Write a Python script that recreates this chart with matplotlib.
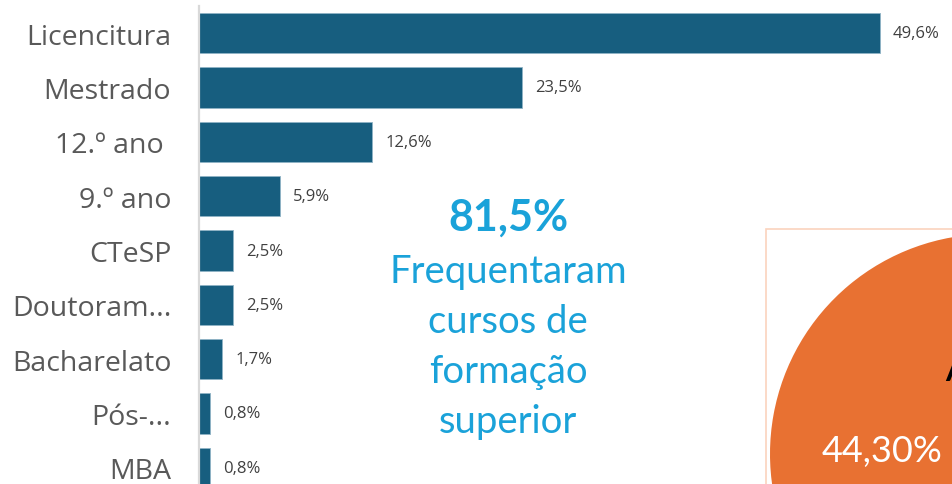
import numpy as np
import matplotlib.pyplot as plt
from matplotlib.patches import Rectangle

# data
cats = ["Licencitura", "Mestrado", "12.º ano ", "9.º ano", "CTeSP",
        "Doutoram...", "Bacharelato", "Pós-...", "MBA"]
vals = [49.6, 23.5, 12.6, 5.9, 2.5, 2.5, 1.7, 0.8, 0.8]
pie_vals = [44.3, 55.7]
pie_label = "44,30%"
highlight = "81,5%"
highlight_txt = ["Frequentaram", "cursos de", "formação", "superior"]

W, H = 953, 485
fig = plt.figure(figsize=(W / 100, H / 100), dpi=100)

def px(x, y):
    return x / W, 1 - y / H

# bar chart axes (extends a bit below the figure)
x0, top, bot = 199, 7, 496
xmax = 55
ax = fig.add_axes([x0 / W, (H - bot) / H, (13.73 * xmax) / W, (bot - top) / H])
y = np.arange(len(cats))
ax.barh(y, vals, height=0.74, color="#175e7f", edgecolor="#8fb3c6", linewidth=0.6)
ax.set_ylim(len(cats) - 0.5, -0.5)
ax.set_xlim(0, xmax)
ax.set_yticks(y)
ax.set_yticklabels(cats, fontsize=20.5, color="#595959", family="Open Sans")
ax.tick_params(axis="y", length=0, pad=20)
ax.set_xticks([])
for s in ["top", "right", "bottom"]:
    ax.spines[s].set_visible(False)
ax.spines["left"].set_color("#d9d9d9")
ax.spines["left"].set_linewidth(1.6)
for i, v in enumerate(vals):
    ax.text(v + 0.95, i, f"{v:.1f}%".replace(".", ","), va="center", ha="left",
            fontsize=12, color="#404040", family="Open Sans")

# highlight text
blue = "#1aa2d9"
fig.text(*px(508, 218), highlight, ha="center", va="center", fontsize=31,
         fontweight="bold", color=blue, family="Lato")
for k, t in enumerate(highlight_txt):
    fig.text(*px(508, 272 + k * 50), t, ha="center", va="center", fontsize=27.5,
             color=blue, family="Lato")

# pie in a bordered box (cropped at the right/bottom edge)
fig.add_artist(Rectangle(px(766, 500), (W + 10 - 766) / W, (500 - 230) / H,
                         transform=fig.transFigure, facecolor="none",
                         edgecolor="#fbd3bd", linewidth=1.2))
cx, cy, r = 990, 455, 220
pax = fig.add_axes([(cx - r) / W, (H - cy - r) / H, 2 * r / W, 2 * r / H])
pax.pie(pie_vals, colors=["#e87132", "#4a7ebb"], startangle=90, counterclock=True,
        wedgeprops=dict(linewidth=0))
pax.set_xlim(-1, 1)
pax.set_ylim(-1, 1)
pax.set_axis_off()
fig.text(*px(882, 452), pie_label, ha="center", va="center", fontsize=26,
         color="white", family="Lato")
fig.text(*px(945, 372), "A", ha="left", va="center", fontsize=22,
         fontweight="bold", color="black", family="Lato")

fig.savefig("out.png", dpi=100)
